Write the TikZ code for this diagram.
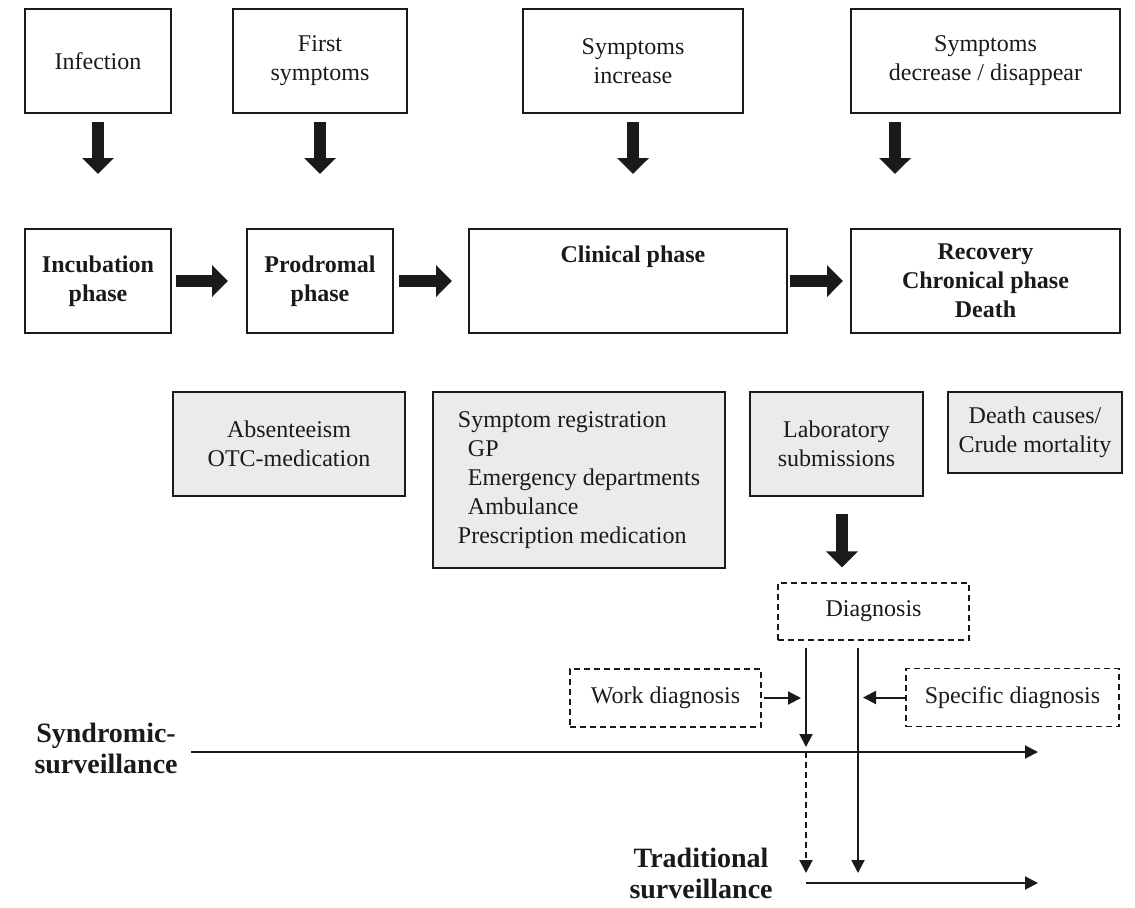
\documentclass[tikz,border=0pt]{standalone}
\usepackage{fontspec}
\setmainfont{Liberation Serif}
\usepackage{tikz}
\usetikzlibrary{arrows.meta,positioning,calc}
\definecolor{ink}{RGB}{26,26,26}
\definecolor{srcgray}{RGB}{234,236,235}
\tikzset{
  event/.style={draw=ink, line width=1pt, align=center, inner sep=0pt, minimum height=52pt},
  phase/.style={event, font=\fontsize{12}{14.5}\selectfont\bfseries},
  source/.style={draw=ink, line width=1pt, fill=srcgray, align=center, inner sep=0pt},
  dbox/.style={draw=ink, line width=0.7pt, dash pattern=on 3pt off 2pt, inner sep=0pt, minimum height=29pt},
  survlab/.style={align=center, inner sep=0pt, font=\fontsize{14}{15.5}\selectfont\bfseries},
  blockarrow/.style={draw=ink, line width=6pt, -{Triangle[length=8pt,width=15.5pt]}},
  thinarrow/.style={draw=ink, line width=1pt, -{Triangle[length=6.5pt,width=6.5pt]}},
}

\begin{document}
\begin{tikzpicture}[x=0.5pt, y=-0.5pt, font=\fontsize{12}{14.5}\selectfont, text=ink]
\useasboundingbox (0,0) rectangle (1135,907);

% events
\node[event, minimum width=73pt] (inf) at (98,61) {Infection};
\node[event, minimum width=87pt] (fsym) at (320,61) {First\\symptoms};
\node[event, minimum width=110pt] (sinc) at (633,61) {Symptoms\\increase};
\node[event, minimum width=134.5pt] (sdec) at (985.5,61) {Symptoms\\decrease / disappear};

% phases
\node[phase, minimum width=73pt] (inc) at (98,281) {Incubation\\phase};
\node[phase, minimum width=73pt] (prod) at (320,281) {Prodromal\\phase};
\node[phase, minimum width=159pt] (clin) at (628,281) {};
\node[font=\fontsize{12}{14.5}\selectfont\bfseries] (clintxt) at (633,257) {Clinical phase};
\node[phase, minimum width=134.5pt] (rec) at (985.5,281) {Recovery\\Chronical phase\\Death};

% data sources
\node[source, minimum width=116pt, minimum height=52pt] (abs) at (289,444) {Absenteeism\\OTC-medication};
\node[source, align=left, minimum width=146pt, minimum height=88pt] (sreg) at (579,480)
  {Symptom registration\\\hspace*{5pt}GP\\\hspace*{5pt}Emergency departments\\\hspace*{5pt}Ambulance\\Prescription medication};
\node[source, minimum width=86.5pt, minimum height=52pt] (lab) at (836.5,444) {Laboratory\\submissions};
\node[source, minimum width=87pt, minimum height=40.5pt] (death) at (1035,432.5) {Death causes/\\Crude mortality};

% diagnosis
\node[dbox, minimum width=95.5pt, minimum height=28.5pt] (diag) at (873.5,611.5) {Diagnosis};
\node[dbox, minimum width=95.5pt] (work) at (665.5,698) {Work diagnosis};
\node[dbox, minimum width=106.5pt] (spec) at (1012.5,697.5) {Specific diagnosis};

% surveillance
\node[survlab, anchor=east] (synd) at (178,748) {Syndromic-\\surveillance};
\node[survlab, anchor=east] (trad) at (773,873) {Traditional\\surveillance};

\coordinate (syndend) at (1038,752);
\coordinate (tradbeg) at (806,883);
\coordinate (tradend) at (1038,883);
\coordinate (ltop) at ([xshift=-33.75pt]diag.south);
\coordinate (rtop) at ([xshift=-7.75pt]diag.south);
\coordinate (decout) at ([xshift=-45.25pt]sdec.south);
\coordinate (labout) at ([xshift=2.75pt]lab.south);

\draw[blockarrow, shorten <=4pt, shorten >=27pt] (inf) -- (inc);
\draw[blockarrow, shorten <=4pt, shorten >=27pt] (fsym) -- (prod);
\draw[blockarrow, shorten <=4pt, shorten >=27pt] (sinc.south) -- (sinc.south |- clin.north);
\draw[blockarrow, shorten <=4pt, shorten >=27pt] (decout) -- (decout |- rec.north);

\draw[blockarrow, shorten <=2pt, shorten >=9pt] (inc) -- (prod);
\draw[blockarrow, shorten <=2.5pt, shorten >=8pt] (prod) -- (clin);
\draw[blockarrow, shorten <=1pt, shorten >=3.5pt] (clin) -- (rec);

\draw[blockarrow, shorten <=8.5pt, shorten >=7.5pt] (labout) -- (labout |- diag.north);

\draw[thinarrow, shorten <=3.5pt, shorten >=2.5pt] (ltop) -- (ltop |- syndend);
\draw[thinarrow, dash pattern=on 3pt off 2pt, shorten >=5pt] (ltop |- syndend) -- (tradbeg);
\draw[thinarrow, shorten <=3.5pt, shorten >=5pt] (rtop) -- (rtop |- tradend);
\draw[thinarrow, shorten <=1pt, shorten >=2.5pt] (work.east) -- (work.east -| ltop);
\draw[thinarrow, shorten >=2.5pt] (spec.west) -- (spec.west -| rtop);

\draw[thinarrow, shorten <=6.5pt] (synd.east |- syndend) -- (syndend);
\draw[thinarrow] (tradbeg) -- (tradend);
\end{tikzpicture}
\end{document}
